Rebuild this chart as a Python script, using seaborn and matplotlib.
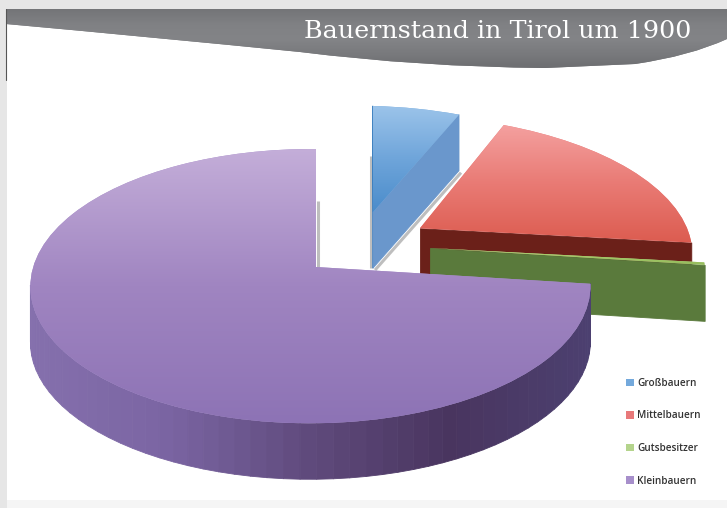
import matplotlib
matplotlib.use("Agg")
import matplotlib.pyplot as plt
import numpy as np
import seaborn as sns
from matplotlib.collections import PolyCollection
from matplotlib.patches import PathPatch, Rectangle
from matplotlib.path import Path
from matplotlib.transforms import Transform

TITLE = "Bauernstand in Tirol um 1900"
LABELS = ["Großbauern", "Mittelbauern", "Gutsbesitzer", "Kleinbauern"]
VALUES = [6.5, 20.2, 0.3, 73.0]

# explode offsets and radius in pie units, the picture does not explode radially
OFFSETS = [(0.217, 0.431), (0.39, 0.30), (0.419, 0.144), (0.0, 0.0)]
RADII = [1.0, 1.03, 1.02, 0.99]
TRIM = [1.6, 0.0, 0.0, 0.0]
DEPTH = 56

LEGEND_COLORS = ["#74a9dc", "#e8797a", "#b4d48c", "#a78fcb"]
TOP_COLORS = [
    ["#9cc4ea", "#6fa5da", "#4a8ccb"],
    ["#f4a09f", "#e97a74", "#dc5c50"],
    ["#b5d67a", "#a3c866", "#94bb5c"],
    ["#c4aed9", "#a085c1", "#8d73b5"],
]
WALL_COLORS = [
    ["#3c7fbe", "#5389c4", "#6a97cc"],
    ["#6b2019", "#6f221b", "#661d17"],
    ["#5a7a3c", "#527036", "#4f6e30"],
    ["#8570ad", "#7a64a2", "#5f4a7c", "#49355f", "#4c4070"],
]


class PiePerspective(Transform):
    input_dims = 2
    output_dims = 2
    is_separable = False

    def transform_non_affine(self, values):
        values = np.asarray(values, dtype=float)
        u, v = values[:, 0], values[:, 1]
        w = 1 + 0.141 * v + 0.02 * u
        return np.column_stack([316 + 280 * u / w, 267 - 135.8 * v / w])


def draw_walls(ax, wedge, proj, cmap, zorder):
    center = np.array(wedge.center)
    angles = np.radians(np.linspace(wedge.theta1, wedge.theta2, 90))
    rim = center + wedge.r * np.column_stack([np.cos(angles), np.sin(angles)])
    outline = proj.transform(np.vstack([center, rim, center]))
    quads = []
    for a, b in zip(outline[:-1], outline[1:]):
        # outline runs counter clockwise, only left to right pieces face the viewer
        if b[0] - a[0] > 0.01:
            quads.append([a, b, b + (0, DEPTH), a + (0, DEPTH)])
    quads = np.array(quads)
    # back to front so the near wall ends up on top
    quads = quads[np.argsort(quads[:, :, 1].mean(axis=1))]
    xmid = quads[:, :, 0].mean(axis=1)
    shade = (xmid - xmid.min()) / max(np.ptp(xmid), 1)
    walls = PolyCollection(quads, facecolors=cmap(shade), edgecolors=cmap(shade),
                           linewidths=0.6, zorder=zorder)
    ax.add_collection(walls)


def draw_top(ax, wedge, proj, cmap, zorder):
    wedge.set_transform(proj + ax.transData)
    wedge.set_zorder(zorder)
    wedge.set_edgecolor("none")
    box = wedge.get_path().transformed(proj).get_extents()
    gradient = np.linspace(0, 1, 256).reshape(-1, 1)
    img = ax.imshow(gradient, cmap=cmap, aspect="auto", origin="upper", zorder=zorder + 0.1,
                    extent=(box.x0, box.x1, box.y1, box.y0))
    img.set_clip_path(wedge)


def draw_shadows(ax, wedges, proj):
    # thin grey drop shadows along the gap walls
    shadow = dict(color="#a9a9a9", lw=2.2, alpha=0.75, solid_capstyle="butt", zorder=1.5)
    ax_blue = proj.transform([wedges[0].center])[0]
    ax_purple = proj.transform([wedges[3].center])[0]
    ang = np.radians(wedges[0].theta1)
    rim = np.array(wedges[0].center) + wedges[0].r * np.array([np.cos(ang), np.sin(ang)])
    rim = proj.transform([rim])[0]
    ax.plot([ax_blue[0] - 2, ax_blue[0] - 2], [ax_blue[1] - DEPTH, ax_blue[1] + DEPTH], **shadow)
    ax.plot([rim[0] + 2, ax_blue[0] + 2], [rim[1] + DEPTH + 2, ax_blue[1] + DEPTH + 2], **shadow)
    ax.plot([ax_purple[0] + 2, ax_purple[0] + 2], [ax_purple[1] - DEPTH - 10, ax_purple[1]], **shadow)


def draw_header(ax):
    verts = [(6, 9), (727, 9), (727, 39), (690, 56), (635, 64), (545, 68),
             (420, 67), (300, 52), (150, 37), (6, 24), (6, 9)]
    codes = [Path.MOVETO, Path.LINETO, Path.LINETO, Path.CURVE3, Path.CURVE3, Path.LINETO,
             Path.CURVE3, Path.CURVE3, Path.CURVE3, Path.CURVE3, Path.CLOSEPOLY]
    band = PathPatch(Path(verts, codes), facecolor="#77787b", edgecolor="none", zorder=1)
    ax.add_patch(band)
    cmap = sns.blend_palette(["#747578", "#808184", "#838487", "#78797c", "#6c6d70"], as_cmap=True)
    img = ax.imshow(np.linspace(0, 1, 64).reshape(-1, 1), cmap=cmap, aspect="auto",
                    extent=(6, 727, 70, 9), origin="upper", zorder=1.1)
    img.set_clip_path(band)
    ax.plot([6, 6], [9, 80], color="#555555", lw=0.8, zorder=1.2)
    ax.text(691, 31, TITLE, color="white", ha="right", va="center", fontsize=18.3,
            family="DejaVu Serif", zorder=6)


def main():
    sns.set_theme(style="white")
    fig = plt.figure(figsize=(7.27, 5.08), dpi=100, facecolor="#e6e6e6")
    ax = fig.add_axes([0, 0, 1, 1])

    wedges, _ = ax.pie(VALUES, startangle=90, counterclock=False, colors=LEGEND_COLORS)
    proj = PiePerspective()

    ax.add_patch(Rectangle((7, 9), 720, 491, facecolor="white", edgecolor="none", zorder=0))
    ax.add_patch(Rectangle((7, 500), 720, 8, facecolor="#f5f5f5", edgecolor="none", zorder=0))
    draw_header(ax)

    for i, wedge in enumerate(wedges):
        wedge.set_center(OFFSETS[i])
        wedge.set_radius(RADII[i])
        wedge.set_theta2(wedge.theta2 - TRIM[i])
    draw_shadows(ax, wedges, proj)

    for i, wedge in enumerate(wedges):
        zorder = 2 + i
        draw_walls(ax, wedge, proj, sns.blend_palette(WALL_COLORS[i], as_cmap=True), zorder)
        draw_top(ax, wedge, proj, sns.blend_palette(TOP_COLORS[i], as_cmap=True), zorder + 0.2)

    legend = ax.legend(wedges, LABELS, loc="upper left", bbox_to_anchor=(626 / 727, 1 - 378 / 508),
                       frameon=False, handlelength=0.75, handleheight=0.75,
                       handletextpad=0.35, labelspacing=2.15, borderpad=0, borderaxespad=0,
                       labelcolor="#333333", prop={"family": "Open Sans", "weight": "semibold", "size": 7.2})
    legend.set_zorder(7)

    ax.set_xlim(0, 727)
    ax.set_ylim(508, 0)
    ax.set_aspect("auto")
    ax.axis("off")
    fig.savefig("out.png", dpi=100, facecolor=fig.get_facecolor())
    plt.close(fig)


if __name__ == "__main__":
    main()
